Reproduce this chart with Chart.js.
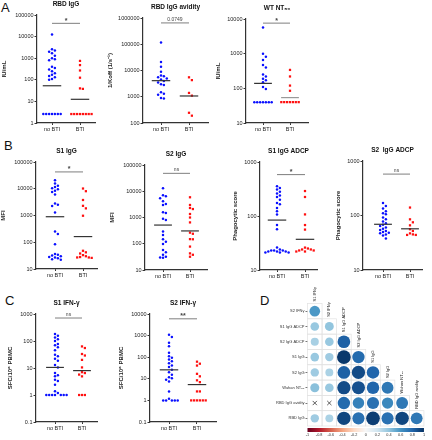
<!DOCTYPE html>
<html>
<head>
<meta charset="utf-8">
<script src="https://cdn.jsdelivr.net/npm/chart.js@4.4.1/dist/chart.umd.min.js"></script>
<style>
  body { margin: 0; background: #fff; }
  #wrap { position: relative; width: 432px; height: 440px; overflow: hidden; font-family: Arial, "Liberation Sans", sans-serif; }
  #wrap canvas { position: absolute; }
  .lbl { position: absolute; font-size: 13px; color: #111; line-height: 1; }
</style>
</head>
<body>
<div id="wrap">
  <div class="lbl" style="left:1px;top:1px">A</div>
  <div class="lbl" style="left:4px;top:139px">B</div>
  <div class="lbl" style="left:5px;top:294px">C</div>
  <div class="lbl" style="left:260px;top:294px">D</div>
</div>
<script>
const groups = ["no BTI", "BTI"];

// A - RBD IgG
const rbdIggNoBti = [12600, 2600, 2300, 2000, 1700, 1300, 1000, 900, 800, 400, 350, 300, 250, 200, 170, 150, 130, 110, 100, 2.6, 2.6, 2.6, 2.6, 2.6, 2.6, 2.6];
const rbdIggBti = [750, 480, 270, 125, 40, 38, 2.6, 2.6, 2.6, 2.6, 2.6, 2.6, 2.6, 2.6];
const rbdIggMeans = [53, 12.5];

// A - RBD IgG avidity
const avidityNoBti = [117000, 21000, 14000, 9000, 6500, 6000, 5500, 5000, 4500, 4000, 3500, 3000, 2800, 1500, 1300, 1200, 900, 850];
const avidityBti = [5500, 4300, 1400, 1100, 245, 190];
const avidityMeans = [4100, 1070];

// A - WT NT50
const nt50NoBti = [5700, 1000, 820, 660, 470, 400, 250, 220, 190, 170, 150, 110, 95, 40, 40, 40, 40, 40, 40, 40];
const nt50Bti = [340, 220, 120, 85, 40, 40, 40, 40, 40, 40, 40];
const nt50Means = [139, 54];

// B - S1 IgG / S2 IgG
const s1IggNoBti = [21000, 15800, 13000, 11700, 10500, 9500, 8500, 7500, 6100, 2800, 2500, 2250, 1300, 250, 205, 85, 36, 34, 32, 30, 28, 27, 25, 23, 22];
const s1IggBti = [10200, 8100, 3800, 2300, 1850, 980, 48, 42, 38, 33, 30, 28, 27, 27, 26];
const s1IggMeans = [900, 163];
const s2IggNoBti = [12900, 7000, 6500, 5400, 4200, 3300, 3000, 1600, 1500, 900, 800, 290, 215, 150, 120, 98, 58, 47, 38, 32, 30, 29];
const s2IggBti = [5900, 3000, 2300, 2100, 1360, 1000, 650, 265, 240, 150, 148, 78, 43, 38, 32];
const s2IggMeans = [515, 308];

// B - ADCP
const s1AdcpNoBti = [355, 330, 310, 280, 260, 240, 225, 200, 175, 165, 141, 123, 107, 68, 57, 26, 24, 23, 23, 23, 22, 22, 22, 21, 21, 21];
const s1AdcpBti = [290, 225, 107, 68, 56, 26, 25, 24, 24, 23, 23, 22, 22];
const s1AdcpMeans = [84, 37];
const s2AdcpNoBti = [170, 150, 135, 120, 110, 105, 92, 85, 78, 72, 68, 64, 60, 57, 54, 52, 50, 48, 47, 45, 43, 38];
const s2AdcpBti = [140, 85, 75, 66, 56, 52, 47, 45, 44, 44];
const s2AdcpMeans = [69, 57];

// C - IFN-g
const s1IfnNoBti = [180, 158, 135, 117, 100, 78, 70, 59, 45, 31, 27, 22, 18.6, 13, 10.5, 6.5, 5.4, 5, 3.7, 3.3, 2.4, 1.37, 1.18, 1, 1, 1, 1, 1, 1, 1];
const s1IfnBti = [63, 55, 33, 29, 20, 10.5, 7, 6.5, 5.7, 4.9, 1, 1, 1];
const s1IfnMeans = [10.5, 8];
const s2IfnNoBti = [1100, 870, 465, 325, 160, 110, 95, 78, 65, 52, 41, 35, 26, 20, 15.5, 11.7, 10.5, 9.1, 7.5, 2.6, 1.2, 1, 1, 1, 1, 1];
const s2IfnBti = [62, 50, 41, 17, 13, 8.5, 7, 2.6, 2.6, 1, 1, 1, 1, 1, 1];
const s2IfnMeans = [26, 5.4];

// significance bars: height and label
const sigLevels = [41000, 650000, 7600, 42600, 48000, 585, 575, 710, 6000];
const sigLabels = ["*", "0.0749", "*", "*", "ns", "*", "ns", "ns", "**"];

// D - correlation matrix (lower triangle, null = crossed out)
const corrRows = ["S2 IFNγ", "S1 IgG ADCP", "S2 IgG ADCP", "S1 IgG", "S2 IgG", "Wuhan NT₅₀", "RBD IgG avidity", "RBD IgG"];
const corrCols = ["S1 IFNγ", "S2 IFNγ", "S1 IgG ADCP", "S2 IgG ADCP", "S1 IgG", "S2 IgG", "Wuhan NT₅₀", "RBD IgG avidity"];
const corrVals = [
  [0.58],
  [0.38, 0.40],
  [0.33, 0.38, 0.82],
  [0.38, 0.36, 0.97, 0.78],
  [0.36, 0.32, 0.82, 0.9, 0.8],
  [0.42, 0.38, 0.9, 0.88, 0.8, 0.72],
  [null, null, 0.78, 0.68, 0.75, 0.65, 0.72],
  [0.36, 0.32, 0.92, 0.75, 0.95, 0.75, 0.92, 0.72]
];

const FONT = 'Arial, "Liberation Sans", sans-serif';
const BLUE = "#0a10ff";
const RED = "#ff1010";
const wrap = document.getElementById("wrap");

function addCanvas(left, top, w, h) {
  const cv = document.createElement("canvas");
  cv.width = w; cv.height = h;
  cv.style.left = left + "px"; cv.style.top = top + "px";
  cv.style.width = w + "px"; cv.style.height = h + "px";
  wrap.appendChild(cv);
  return cv;
}

// spread points that sit at the same level into a row
function swarm(vals, centre, pxDec, unitPx) {
  const gap = 3 / pxDec, step = 2.9 / unitPx;
  const placed = [];
  return vals.map(v => {
    const lv = Math.log10(v);
    for (let k = 0; ; k++) {
      const slot = k === 0 ? 0 : (k % 2 ? (k + 1) / 2 : -k / 2);
      if (!placed.some(p => p.s === slot && Math.abs(p.l - lv) < gap)) {
        placed.push({ s: slot, l: lv });
        return { x: centre + slot * step, y: v };
      }
    }
  });
}

function makeStrip(o) {
  const [c1, c2] = o.catPx;
  const unit = c2 - c1;
  const yw = o.yw || 36;
  const left = o.area.l - yw, top = o.area.t - 16;
  const w = Math.round(o.area.r - left + 4), h = Math.round(o.area.b - top + 15);
  const cv = addCanvas(left, top, w, h);
  const pxDec = (o.area.b - o.area.t) / Math.log10(o.max / o.min);
  const decades = [];
  for (let v = o.min; v <= o.max * 1.001; v *= 10) decades.push(+v.toPrecision(1));
  const meanLine = (c, m, col) => ({
    data: [{ x: c - 0.33, y: m }, { x: c + 0.33, y: m }],
    showLine: true, borderColor: col, borderWidth: 1.2, pointRadius: 0
  });
  const tickFont = { size: 5.5, family: FONT };

  new Chart(cv, {
    type: "scatter",
    data: {
      datasets: [
        meanLine(1, o.means[0], "#333"),
        meanLine(2, o.means[1], o.meanColor2 || "#333"),
        { data: [{ x: 1, y: o.sig }, { x: 2, y: o.sig }], showLine: true, borderColor: "#8a8a8a", borderWidth: 1.1, pointRadius: 0 },
        { data: swarm(o.noBti, 1, pxDec, unit), pointRadius: 1.25, pointStyle: "circle", backgroundColor: BLUE, borderWidth: 0 },
        { data: swarm(o.bti, 2, pxDec, unit), pointRadius: 1.6, pointStyle: "rect", backgroundColor: RED, borderWidth: 0 }
      ]
    },
    options: {
      responsive: false,
      animation: false,
      layout: { padding: { top: 16, right: 4, left: 0, bottom: 0 } },
      plugins: { legend: { display: false }, tooltip: { enabled: false } },
      scales: {
        x: {
          type: "linear",
          min: 1 - (c1 - o.area.l) / unit,
          max: 2 + (o.area.r - c2) / unit,
          afterBuildTicks: s => { s.ticks = [{ value: 1 }, { value: 2 }]; },
          afterFit: s => { s.height = 15; },
          ticks: { callback: v => groups[v - 1], font: tickFont, color: "#222", padding: 1, maxRotation: 0, autoSkip: false },
          grid: { drawOnChartArea: false, tickLength: 2, color: "#333" },
          border: { color: "#333", width: 1.2 }
        },
        y: {
          type: "logarithmic",
          min: o.min,
          max: o.max,
          afterBuildTicks: s => { s.ticks = decades.map(v => ({ value: v })); },
          afterFit: s => { s.width = yw; },
          ticks: { callback: v => String(v), font: tickFont, color: "#222", padding: 1, autoSkip: false },
          grid: { drawOnChartArea: false, tickLength: 2.5, color: "#333" },
          border: { color: "#333", width: 1.2 },
          title: { display: true, text: o.yTitle, color: "#222", font: { size: 6, weight: "bold", family: FONT }, padding: { top: 0, bottom: 2 } }
        }
      }
    },
    plugins: [{
      id: "labels",
      afterDraw(c) {
        const { ctx, chartArea: a, scales: { x, y } } = c;
        ctx.save();
        ctx.fillStyle = "#111";
        ctx.textAlign = "center";
        ctx.textBaseline = "middle";
        ctx.font = "bold 6.5px " + FONT;
        ctx.fillText(o.title, (a.left + a.right) / 2, a.top - 11);
        ctx.textBaseline = "bottom";
        ctx.fillStyle = "#444";
        ctx.font = (o.sigText.startsWith("*") ? "bold 7px " : "5px ") + FONT;
        ctx.fillText(o.sigText, x.getPixelForValue(1.5), y.getPixelForValue(o.sig) - (o.sigText.startsWith("*") ? -1 : 1));
        ctx.restore();
      }
    }]
  });
}

const strips = [
  { title: "RBD IgG", yTitle: "IU/mL", min: 1, max: 100000, area: { l: 37, r: 95, t: 15, b: 123 }, catPx: [52, 80], yw: 36, noBti: rbdIggNoBti, bti: rbdIggBti, means: rbdIggMeans },
  { title: "RBD IgG avidity", yTitle: "1/Koff (1/s⁻¹)", min: 100, max: 1000000, area: { l: 143, r: 208, t: 18, b: 123 }, catPx: [161, 189], yw: 36, noBti: avidityNoBti, bti: avidityBti, means: avidityMeans },
  { title: "WT NT₅₀", yTitle: "IU/mL", min: 10, max: 10000, area: { l: 246, r: 308, t: 19, b: 123 }, catPx: [263, 290], yw: 31, noBti: nt50NoBti, bti: nt50Bti, means: nt50Means, meanColor2: "#999" },
  { title: "S1 IgG", yTitle: "MFI", min: 10, max: 100000, area: { l: 36, r: 97, t: 162, b: 269 }, catPx: [55, 83], yw: 36, noBti: s1IggNoBti, bti: s1IggBti, means: s1IggMeans },
  { title: "S2 IgG", yTitle: "MFI", min: 10, max: 100000, area: { l: 145, r: 207, t: 165, b: 270 }, catPx: [163, 190], yw: 36, noBti: s2IggNoBti, bti: s2IggBti, means: s2IggMeans },
  { title: "S1 IgG ADCP", yTitle: "Phagocytic score", min: 10, max: 1000, area: { l: 260, r: 317, t: 162, b: 270 }, catPx: [277, 305], yw: 28, noBti: s1AdcpNoBti, bti: s1AdcpBti, means: s1AdcpMeans },
  { title: "S2  IgG ADCP", yTitle: "Phagocytic score", min: 10, max: 1000, area: { l: 363, r: 422, t: 161, b: 270 }, catPx: [383, 410], yw: 28, noBti: s2AdcpNoBti, bti: s2AdcpBti, means: s2AdcpMeans },
  { title: "S1 IFN-γ", yTitle: "SFC/10⁶ PBMC", min: 0.1, max: 1000, area: { l: 36, r: 97, t: 314, b: 422 }, catPx: [55, 82], yw: 29, noBti: s1IfnNoBti, bti: s1IfnBti, means: s1IfnMeans },
  { title: "S2 IFN-γ", yTitle: "SFC/10⁶ PBMC", min: 0.1, max: 10000, area: { l: 150, r: 216, t: 314, b: 422 }, catPx: [169, 197], yw: 32, noBti: s2IfnNoBti, bti: s2IfnBti, means: s2IfnMeans }
];
strips.forEach((s, i) => makeStrip(Object.assign(s, { sig: sigLevels[i], sigText: sigLabels[i] })));

// ---- D: correlation matrix ----
const rdbu = [
  [-1, "#67001f"], [-0.8, "#b2182b"], [-0.6, "#d6604d"], [-0.4, "#f4a582"], [-0.2, "#fddbc7"],
  [0, "#f7f7f7"], [0.2, "#d1e5f0"], [0.4, "#92c5de"], [0.6, "#4393c3"], [0.8, "#2166ac"], [1, "#053061"]
];
function hex(h) { return [1, 3, 5].map(i => parseInt(h.substr(i, 2), 16)); }
function rdbuColor(v) {
  for (let i = 0; i < rdbu.length - 1; i++) {
    const [a, ca] = rdbu[i], [b, cb] = rdbu[i + 1];
    if (v <= b) {
      const t = (v - a) / (b - a), A = hex(ca), B = hex(cb);
      return "rgb(" + A.map((x, k) => Math.round(x + (B[k] - x) * t)).join(",") + ")";
    }
  }
  return rdbu[rdbu.length - 1][1];
}

const bubbles = [], bubbleColors = [], crosses = [];
corrVals.forEach((row, i) => row.forEach((v, j) => {
  if (v === null) { crosses.push({ x: j, y: i }); return; }
  bubbles.push({ x: j, y: i, r: 7 * Math.sqrt(Math.abs(v)) });
  bubbleColors.push(rdbuColor(v));
}));

const cvD = addCanvas(262, 285, 170, 155);
new Chart(cvD, {
  type: "bubble",
  data: {
    datasets: [
      { data: bubbles, backgroundColor: bubbleColors, borderWidth: 0 },
      { type: "scatter", data: crosses, pointStyle: "crossRot", pointRadius: 3, borderColor: "#333", borderWidth: 0.8 }
    ]
  },
  options: {
    responsive: false,
    animation: false,
    layout: { padding: { top: 18.5, right: 3.5, left: 0, bottom: 0 } },
    plugins: { legend: { display: false }, tooltip: { enabled: false } },
    scales: {
      x: { type: "linear", min: -0.5, max: 7.5, display: false },
      y: {
        type: "linear", min: -0.5, max: 7.5, reverse: true,
        afterBuildTicks: s => { s.ticks = corrRows.map((_, i) => ({ value: i })); },
        afterFit: s => { s.width = 45.5; },
        ticks: { callback: v => corrRows[v], font: { size: 4, family: FONT }, color: "#333", padding: 1, autoSkip: false },
        grid: { drawOnChartArea: false, tickLength: 2, color: "#777" },
        border: { display: false }
      },
      cb: {
        type: "linear", position: "bottom", min: -1, max: 1,
        afterFit: s => { s.height = 14; },
        ticks: { stepSize: 0.2, callback: v => String(+v.toFixed(1)), font: { size: 3.8, family: FONT }, color: "#333", padding: 7, maxRotation: 0, autoSkip: false },
        grid: { display: false, drawTicks: false },
        border: { display: false }
      }
    }
  },
  plugins: [{
    id: "corrDecor",
    beforeDatasetsDraw(c) {
      const { ctx, scales: { x, y } } = c;
      const cw = x.getPixelForValue(1) - x.getPixelForValue(0);
      const ch = y.getPixelForValue(1) - y.getPixelForValue(0);
      ctx.save();
      ctx.strokeStyle = "#e2e2e2";
      ctx.lineWidth = 0.7;
      corrVals.forEach((row, i) => row.forEach((v, j) => {
        ctx.strokeRect(x.getPixelForValue(j) - cw / 2, y.getPixelForValue(i) - ch / 2, cw, ch);
      }));
      ctx.restore();
    },
    afterDraw(c) {
      const { ctx, scales: { x, y, cb } } = c;
      const ch = y.getPixelForValue(1) - y.getPixelForValue(0);
      ctx.save();
      ctx.fillStyle = "#222";
      ctx.font = "4px " + FONT;
      ctx.textAlign = "left";
      ctx.textBaseline = "middle";
      corrCols.forEach((lab, j) => {
        ctx.save();
        ctx.translate(x.getPixelForValue(j), y.getPixelForValue(j) - ch / 2 - 2);
        ctx.rotate(-Math.PI / 2);
        ctx.fillText(lab, 0, 0);
        ctx.restore();
      });
      const g = ctx.createLinearGradient(cb.left, 0, cb.right, 0);
      rdbu.forEach(([v, col]) => g.addColorStop((v + 1) / 2, col));
      ctx.fillStyle = g;
      ctx.fillRect(cb.left, cb.top + 2, cb.right - cb.left, 4);
      ctx.restore();
    }
  }]
});
</script>
</body>
</html>
